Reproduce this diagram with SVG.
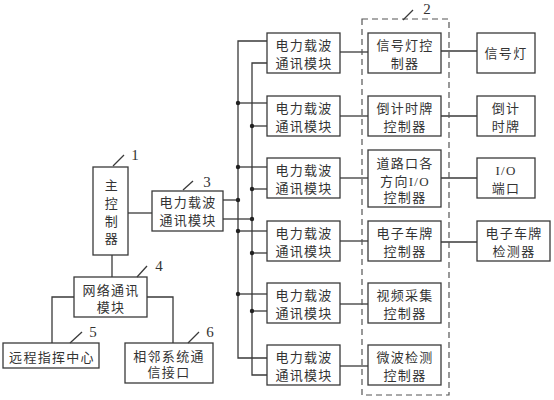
<svg xmlns="http://www.w3.org/2000/svg" width="554" height="400" viewBox="0 0 554 400">
<style>
.b{fill:#fff;stroke:#3a3a3a;stroke-width:1.3}
.l{fill:none;stroke:#3a3a3a;stroke-width:1.3}
.d{fill:none;stroke:#555;stroke-width:1.2;stroke-dasharray:6 4}
text{font-family:"Liberation Serif","Noto Sans CJK SC",serif;font-size:13px;fill:#333;text-anchor:middle;letter-spacing:1.3px}
.n{font-size:15px;letter-spacing:0}
.dot{fill:#222}
</style>
<rect width="554" height="400" fill="#fff"/>
<g id="connectors">
<!-- main controller to plc3 and network -->
<line class="l" x1="128" y1="213" x2="152" y2="213"/>
<line class="l" x1="112" y1="255" x2="112" y2="277"/>
<polyline class="l" points="74,297 52,297 52,343"/>
<polyline class="l" points="147,297 173,297 173,343"/>
<!-- buses -->
<polyline class="l" points="267,41 238,41 238,358 267,358"/>
<polyline class="l" points="267,63 252,63 252,375 267,375"/>
<line class="l" x1="223" y1="200" x2="238" y2="200"/>
<line class="l" x1="223" y1="219" x2="252" y2="219"/>
<line class="l" x1="238" y1="103" x2="267" y2="103"/>
<line class="l" x1="252" y1="126" x2="267" y2="126"/>
<line class="l" x1="238" y1="167" x2="267" y2="167"/>
<line class="l" x1="252" y1="189" x2="267" y2="189"/>
<line class="l" x1="238" y1="231" x2="267" y2="231"/>
<line class="l" x1="252" y1="253" x2="267" y2="253"/>
<line class="l" x1="238" y1="294" x2="267" y2="294"/>
<line class="l" x1="252" y1="311" x2="267" y2="311"/>
<circle class="dot" cx="238" cy="200" r="2.2"/>
<circle class="dot" cx="252" cy="219" r="2.2"/>
<circle class="dot" cx="238" cy="103" r="2.2"/>
<circle class="dot" cx="252" cy="126" r="2.2"/>
<circle class="dot" cx="238" cy="167" r="2.2"/>
<circle class="dot" cx="252" cy="189" r="2.2"/>
<circle class="dot" cx="238" cy="231" r="2.2"/>
<circle class="dot" cx="252" cy="253" r="2.2"/>
<circle class="dot" cx="238" cy="294" r="2.2"/>
<circle class="dot" cx="252" cy="311" r="2.2"/>
<!-- plc to controllers -->
<line class="l" x1="340" y1="52" x2="368" y2="52"/>
<line class="l" x1="340" y1="116" x2="368" y2="116"/>
<line class="l" x1="340" y1="178" x2="368" y2="178"/>
<line class="l" x1="340" y1="241" x2="368" y2="241"/>
<line class="l" x1="340" y1="304" x2="368" y2="304"/>
<line class="l" x1="340" y1="366" x2="368" y2="366"/>
<!-- controllers to devices -->
<line class="l" x1="441" y1="51" x2="477" y2="51"/>
<line class="l" x1="441" y1="116" x2="477" y2="116"/>
<line class="l" x1="441" y1="178" x2="477" y2="178"/>
<line class="l" x1="441" y1="242" x2="477" y2="242"/>
</g>
<g id="group2">
<rect class="d" x="362" y="19" width="87" height="376"/>
<line class="l" x1="403" y1="20" x2="413" y2="10"/>
<text class="n" x="427" y="14">2</text>
</g>
<g id="main">
<rect class="b" x="93" y="167" width="35" height="88"/>
<text x="112" y="190">主</text>
<text x="112" y="208">控</text>
<text x="112" y="226">制</text>
<text x="112" y="243">器</text>
<line class="l" x1="113" y1="166" x2="124" y2="155"/>
<text class="n" x="135" y="160">1</text>
</g>
<g id="plc0">
<rect class="b" x="152" y="191" width="71" height="40"/>
<text x="188" y="207">电力载波</text>
<text x="188" y="225">通讯模块</text>
<line class="l" x1="183" y1="190" x2="193" y2="181"/>
<text class="n" x="207" y="187">3</text>
</g>
<g id="net">
<rect class="b" x="74" y="277" width="73" height="40"/>
<text x="111" y="295">网络通讯</text>
<text x="111" y="312">模块</text>
<line class="l" x1="137" y1="277" x2="147" y2="266"/>
<text class="n" x="159" y="271">4</text>
</g>
<g id="remote">
<rect class="b" x="3" y="343" width="96" height="25"/>
<text x="52" y="362">远程指挥中心</text>
<line class="l" x1="70" y1="343" x2="82" y2="332"/>
<text class="n" x="93" y="337">5</text>
</g>
<g id="neighbor">
<rect class="b" x="125" y="343" width="88" height="40"/>
<text x="169" y="361">相邻系统通</text>
<text x="169" y="377">信接口</text>
<line class="l" x1="188" y1="343" x2="199" y2="332"/>
<text class="n" x="210" y="337">6</text>
</g>
<g id="plc1"><rect class="b" x="267" y="33" width="73" height="40"/><text x="304" y="50">电力载波</text><text x="304" y="68">通讯模块</text></g>
<g id="plc2"><rect class="b" x="267" y="96" width="73" height="40"/><text x="304" y="113">电力载波</text><text x="304" y="131">通讯模块</text></g>
<g id="plc3"><rect class="b" x="267" y="158" width="73" height="40"/><text x="304" y="175">电力载波</text><text x="304" y="193">通讯模块</text></g>
<g id="plc4"><rect class="b" x="267" y="221" width="73" height="40"/><text x="304" y="238">电力载波</text><text x="304" y="256">通讯模块</text></g>
<g id="plc5"><rect class="b" x="267" y="283" width="73" height="40"/><text x="304" y="300">电力载波</text><text x="304" y="318">通讯模块</text></g>
<g id="plc6"><rect class="b" x="267" y="345" width="73" height="40"/><text x="304" y="362">电力载波</text><text x="304" y="380">通讯模块</text></g>
<g id="ctl1"><rect class="b" x="368" y="33" width="73" height="40"/><text x="405" y="50">信号灯控</text><text x="405" y="68">制器</text></g>
<g id="ctl2"><rect class="b" x="368" y="96" width="73" height="40"/><text x="405" y="113">倒计时牌</text><text x="405" y="131">控制器</text></g>
<g id="ctl3"><rect class="b" x="368" y="150" width="73" height="57"/><text x="405" y="168">道路口各</text><text x="405" y="186">方向I/O</text><text x="405" y="202">控制器</text></g>
<g id="ctl4"><rect class="b" x="368" y="221" width="73" height="40"/><text x="405" y="238">电子车牌</text><text x="405" y="256">控制器</text></g>
<g id="ctl5"><rect class="b" x="368" y="283" width="73" height="40"/><text x="405" y="300">视频采集</text><text x="405" y="318">控制器</text></g>
<g id="ctl6"><rect class="b" x="368" y="345" width="73" height="40"/><text x="405" y="362">微波检测</text><text x="405" y="380">控制器</text></g>
<g id="dev1"><rect class="b" x="477" y="33" width="58" height="40"/><text x="506" y="58">信号灯</text></g>
<g id="dev2"><rect class="b" x="477" y="96" width="58" height="40"/><text x="506" y="113">倒计</text><text x="506" y="131">时牌</text></g>
<g id="dev3"><rect class="b" x="477" y="158" width="58" height="40"/><text x="506" y="175">I/O</text><text x="506" y="193">端口</text></g>
<g id="dev4"><rect class="b" x="477" y="221" width="73" height="40"/><text x="514" y="238">电子车牌</text><text x="514" y="256">检测器</text></g>
</svg>
